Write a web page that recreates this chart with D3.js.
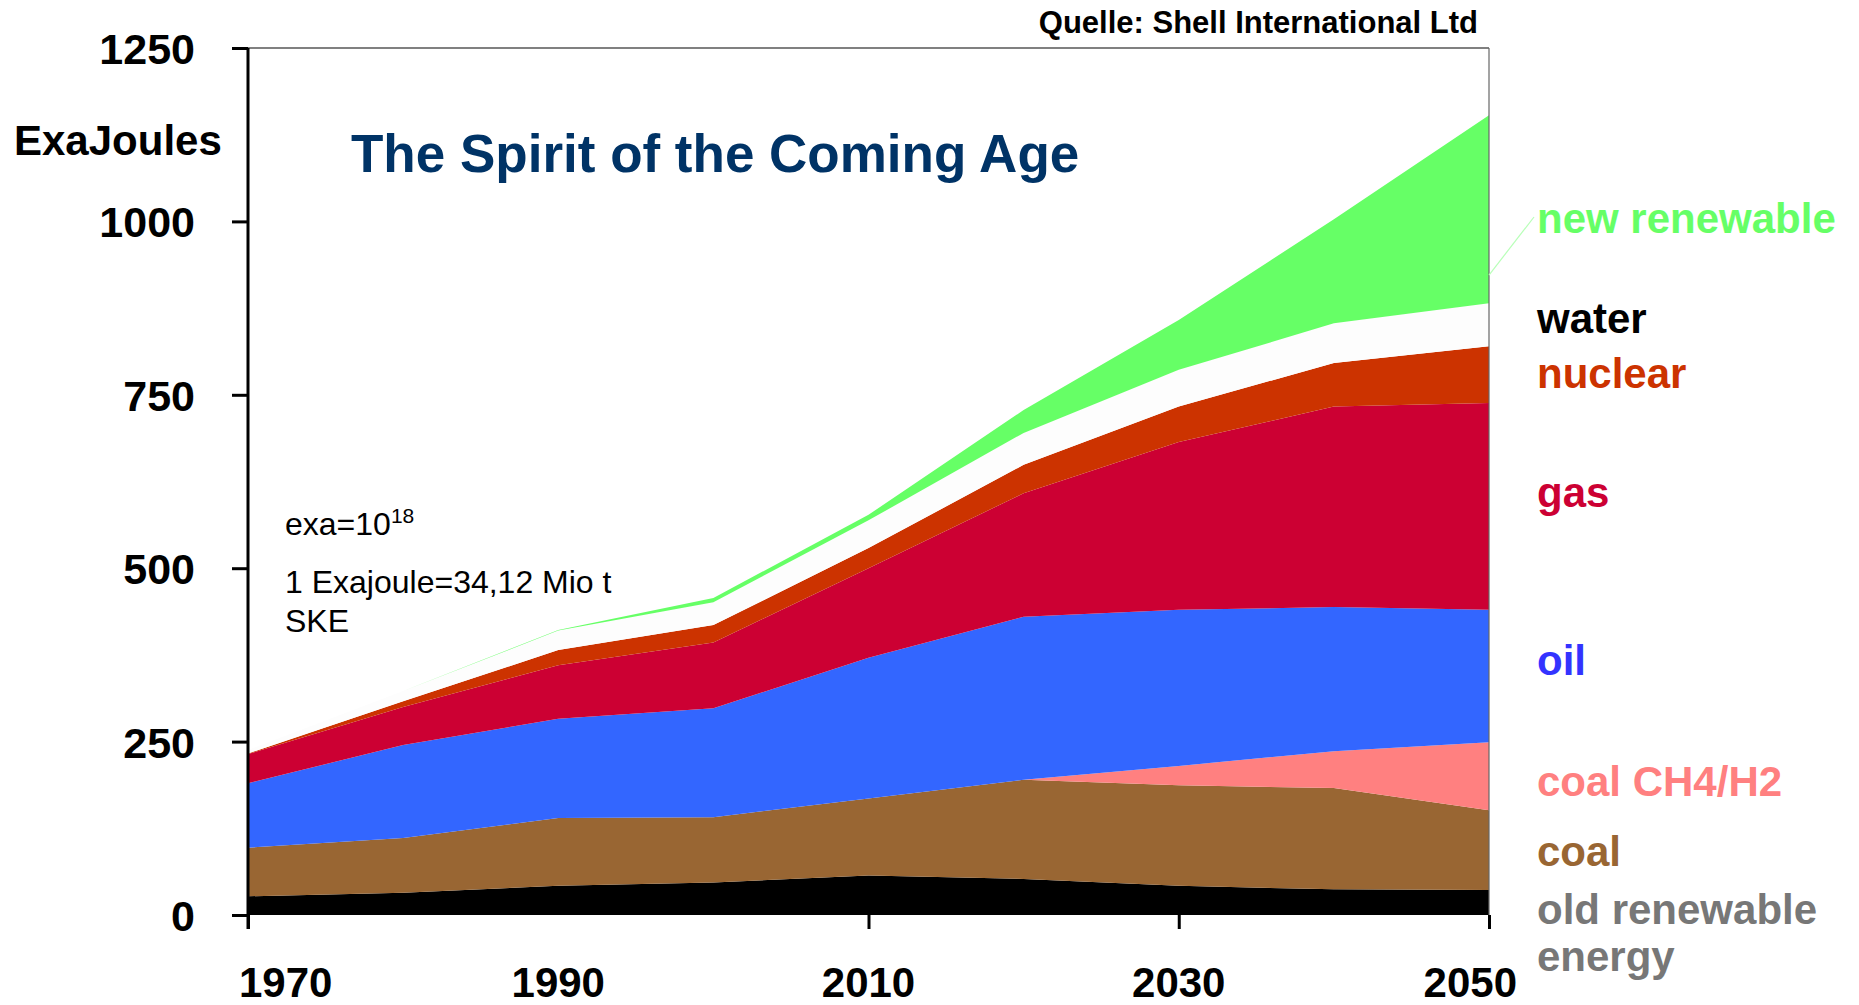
<!DOCTYPE html>
<html>
<head>
<meta charset="utf-8">
<script src="https://cdn.jsdelivr.net/npm/d3@7"></script>
<style>
  html, body { margin: 0; padding: 0; background: #fff; }
  svg { display: block; }
  text { font-family: "Liberation Sans", Arial, sans-serif; }
</style>
</head>
<body>
<script>
var W = 1859, H = 1005;

// years on the x axis (one point per decade)
var years = [1970, 1980, 1990, 2000, 2010, 2020, 2030, 2040, 2050];

// ExaJoules per source (stacked bottom -> top)
var oldRenewable = [27, 32, 42, 47, 57, 52, 42, 37, 36];
var coal         = [70, 79, 98, 94, 111, 143, 145, 146, 115];
var coalCH4H2    = [0, 0, 0, 0, 0, 0, 28, 53, 98];
var oil          = [93, 134, 143, 157, 203, 235, 225, 208, 191];
var gas          = [42, 55, 77, 95, 129, 178, 242, 289, 298];
var nuclear      = [1, 8, 22, 25, 29, 41, 51, 63, 82];
var water        = [5, 15, 28, 33, 40, 46, 53, 57, 62];
var newRenewable = [0, 0, 1, 6, 8, 33, 72, 150, 271];

var yTicks = [0, 250, 500, 750, 1000, 1250];
var xTickMarks = [1970, 2010, 2030, 2050];
var xTickLabels = [1970, 1990, 2010, 2030, 2050];

var keys = ["old", "coal", "ch4", "oil", "gas", "nuclear", "water", "newren"];
var fills = {
  old: "#000000", coal: "#996633", ch4: "#FF8080", oil: "#3366FF",
  gas: "#CC0033", nuclear: "#CC3300", water: "#FDFDFD", newren: "#66FF66"
};

// legend labels on the right (label text, colour, key)
var labels = [
  {key: "newren", text: ["new renewable"], color: "#66FF66"},
  {key: "water", text: ["water"], color: "#000000"},
  {key: "nuclear", text: ["nuclear"], color: "#CC3300"},
  {key: "gas", text: ["gas"], color: "#CC0033"},
  {key: "oil", text: ["oil"], color: "#3333FF"},
  {key: "ch4", text: ["coal CH4/H2"], color: "#FF8080"},
  {key: "coal", text: ["coal"], color: "#996633"},
  {key: "old", text: ["old renewable", "energy"], color: "#777777"}
];
// label baselines (px)
var labelY = [233, 333, 388, 507, 675, 796, 866, 924];

var table = years.map(function(yr, i) {
  return {
    year: yr, old: oldRenewable[i], coal: coal[i], ch4: coalCH4H2[i], oil: oil[i],
    gas: gas[i], nuclear: nuclear[i], water: water[i], newren: newRenewable[i]
  };
});

var svg = d3.select("body").append("svg").attr("width", W).attr("height", H);
svg.append("rect").attr("width", W).attr("height", H).attr("fill", "#fff");

var x = d3.scaleLinear().domain([1970, 2050]).range([248, 1489]);
var y = d3.scaleLinear().domain([0, 1250]).range([915, 48]);

var series = d3.stack().keys(keys)(table);

var area = d3.area()
  .x(function(d) { return x(d.data.year); })
  .y0(function(d) { return y(d[0]); })
  .y1(function(d) { return y(d[1]); });

svg.append("g").selectAll("path")
  .data(series)
  .enter()
  .append("path")
  .attr("d", area)
  .attr("fill", function(d) { return fills[d.key]; });

// frame: grey top line and thin right line
svg.append("line")
  .attr("x1", x(1970)).attr("x2", x(2050))
  .attr("y1", y(1250)).attr("y2", y(1250))
  .attr("stroke", "#808080").attr("stroke-width", 2);
svg.append("line")
  .attr("x1", x(2050)).attr("x2", x(2050))
  .attr("y1", y(1250)).attr("y2", y(0))
  .attr("stroke", "#666").attr("stroke-width", 1.2);

// y axis
var yAxis = svg.append("g")
  .attr("transform", "translate(" + x(1970) + ",0)")
  .call(d3.axisLeft(y).tickValues(yTicks).tickFormat(d3.format("d"))
    .tickSize(16).tickSizeOuter(0).tickPadding(37));
yAxis.select(".domain").remove();
yAxis.selectAll(".tick line").attr("stroke", "#000").attr("stroke-width", 3);
yAxis.selectAll(".tick text")
  .attr("font-size", "43px").attr("font-weight", "bold").attr("fill", "#000")
  .attr("dy", "0.36em")
  .style("font-family", "'Liberation Sans', Arial, sans-serif");

svg.append("line")
  .attr("x1", x(1970)).attr("x2", x(1970))
  .attr("y1", y(1250)).attr("y2", y(0) + 14)
  .attr("stroke", "#000").attr("stroke-width", 3);

// x axis ticks
var xAxis = svg.append("g")
  .attr("transform", "translate(0," + y(0) + ")")
  .call(d3.axisBottom(x).tickValues(xTickMarks).tickSize(14).tickFormat(""));
xAxis.select(".domain").remove();
xAxis.selectAll(".tick line").attr("stroke", "#000").attr("stroke-width", 3);

svg.append("g").selectAll("text")
  .data(xTickLabels)
  .enter()
  .append("text")
  .attr("x", function(d, i) {
    if (i === 0) return x(d) - 9;
    if (i === xTickLabels.length - 1) return x(d) + 28;
    return x(d);
  })
  .attr("y", 997)
  .attr("text-anchor", function(d, i) {
    if (i === 0) return "start";
    if (i === xTickLabels.length - 1) return "end";
    return "middle";
  })
  .attr("font-size", "42px").attr("font-weight", "bold").attr("fill", "#000")
  .text(function(d) { return d; });

// axis title
svg.append("text")
  .attr("x", 14).attr("y", 155)
  .attr("font-size", "42px").attr("font-weight", "bold").attr("fill", "#000")
  .text("ExaJoules");

// chart title
svg.append("text")
  .attr("x", 351).attr("y", 172)
  .attr("font-size", "53px").attr("font-weight", "bold").attr("fill", "#003366")
  .text("The Spirit of the Coming Age");

// source
svg.append("text")
  .attr("x", 1478).attr("y", 33)
  .attr("text-anchor", "end")
  .attr("font-size", "31px").attr("font-weight", "bold").attr("fill", "#000")
  .text("Quelle: Shell International Ltd");

// notes
var note1 = svg.append("text")
  .attr("x", 285).attr("y", 535)
  .attr("font-size", "32px").attr("fill", "#000");
note1.append("tspan").text("exa=10");
note1.append("tspan").attr("dy", -12).attr("font-size", "21px").text("18");

svg.append("text")
  .attr("x", 285).attr("y", 593)
  .attr("font-size", "32px").attr("fill", "#000")
  .text("1 Exajoule=34,12 Mio t");
svg.append("text")
  .attr("x", 285).attr("y", 632)
  .attr("font-size", "32px").attr("fill", "#000")
  .text("SKE");

// leader line to "new renewable"
var last = table[table.length - 1];
var greenBase = d3.sum(keys.slice(0, 7), function(k) { return last[k]; });
svg.append("line")
  .attr("x1", x(2050)).attr("y1", y(greenBase + 0.15 * last.newren))
  .attr("x2", x(2050) + 45).attr("y2", 217)
  .attr("stroke", "#B8FFB8").attr("stroke-width", 1.2);

// right labels
var lab = svg.append("g").selectAll("text")
  .data(labels)
  .enter()
  .append("text")
  .attr("x", 1537)
  .attr("y", function(d, i) { return labelY[i]; })
  .attr("font-size", "42px").attr("font-weight", "bold")
  .attr("fill", function(d) { return d.color; });

lab.selectAll("tspan")
  .data(function(d) { return d.text; })
  .enter()
  .append("tspan")
  .attr("x", 1537)
  .attr("dy", function(d, i) { return i === 0 ? 0 : 47; })
  .text(function(d) { return d; });
</script>
</body>
</html>
